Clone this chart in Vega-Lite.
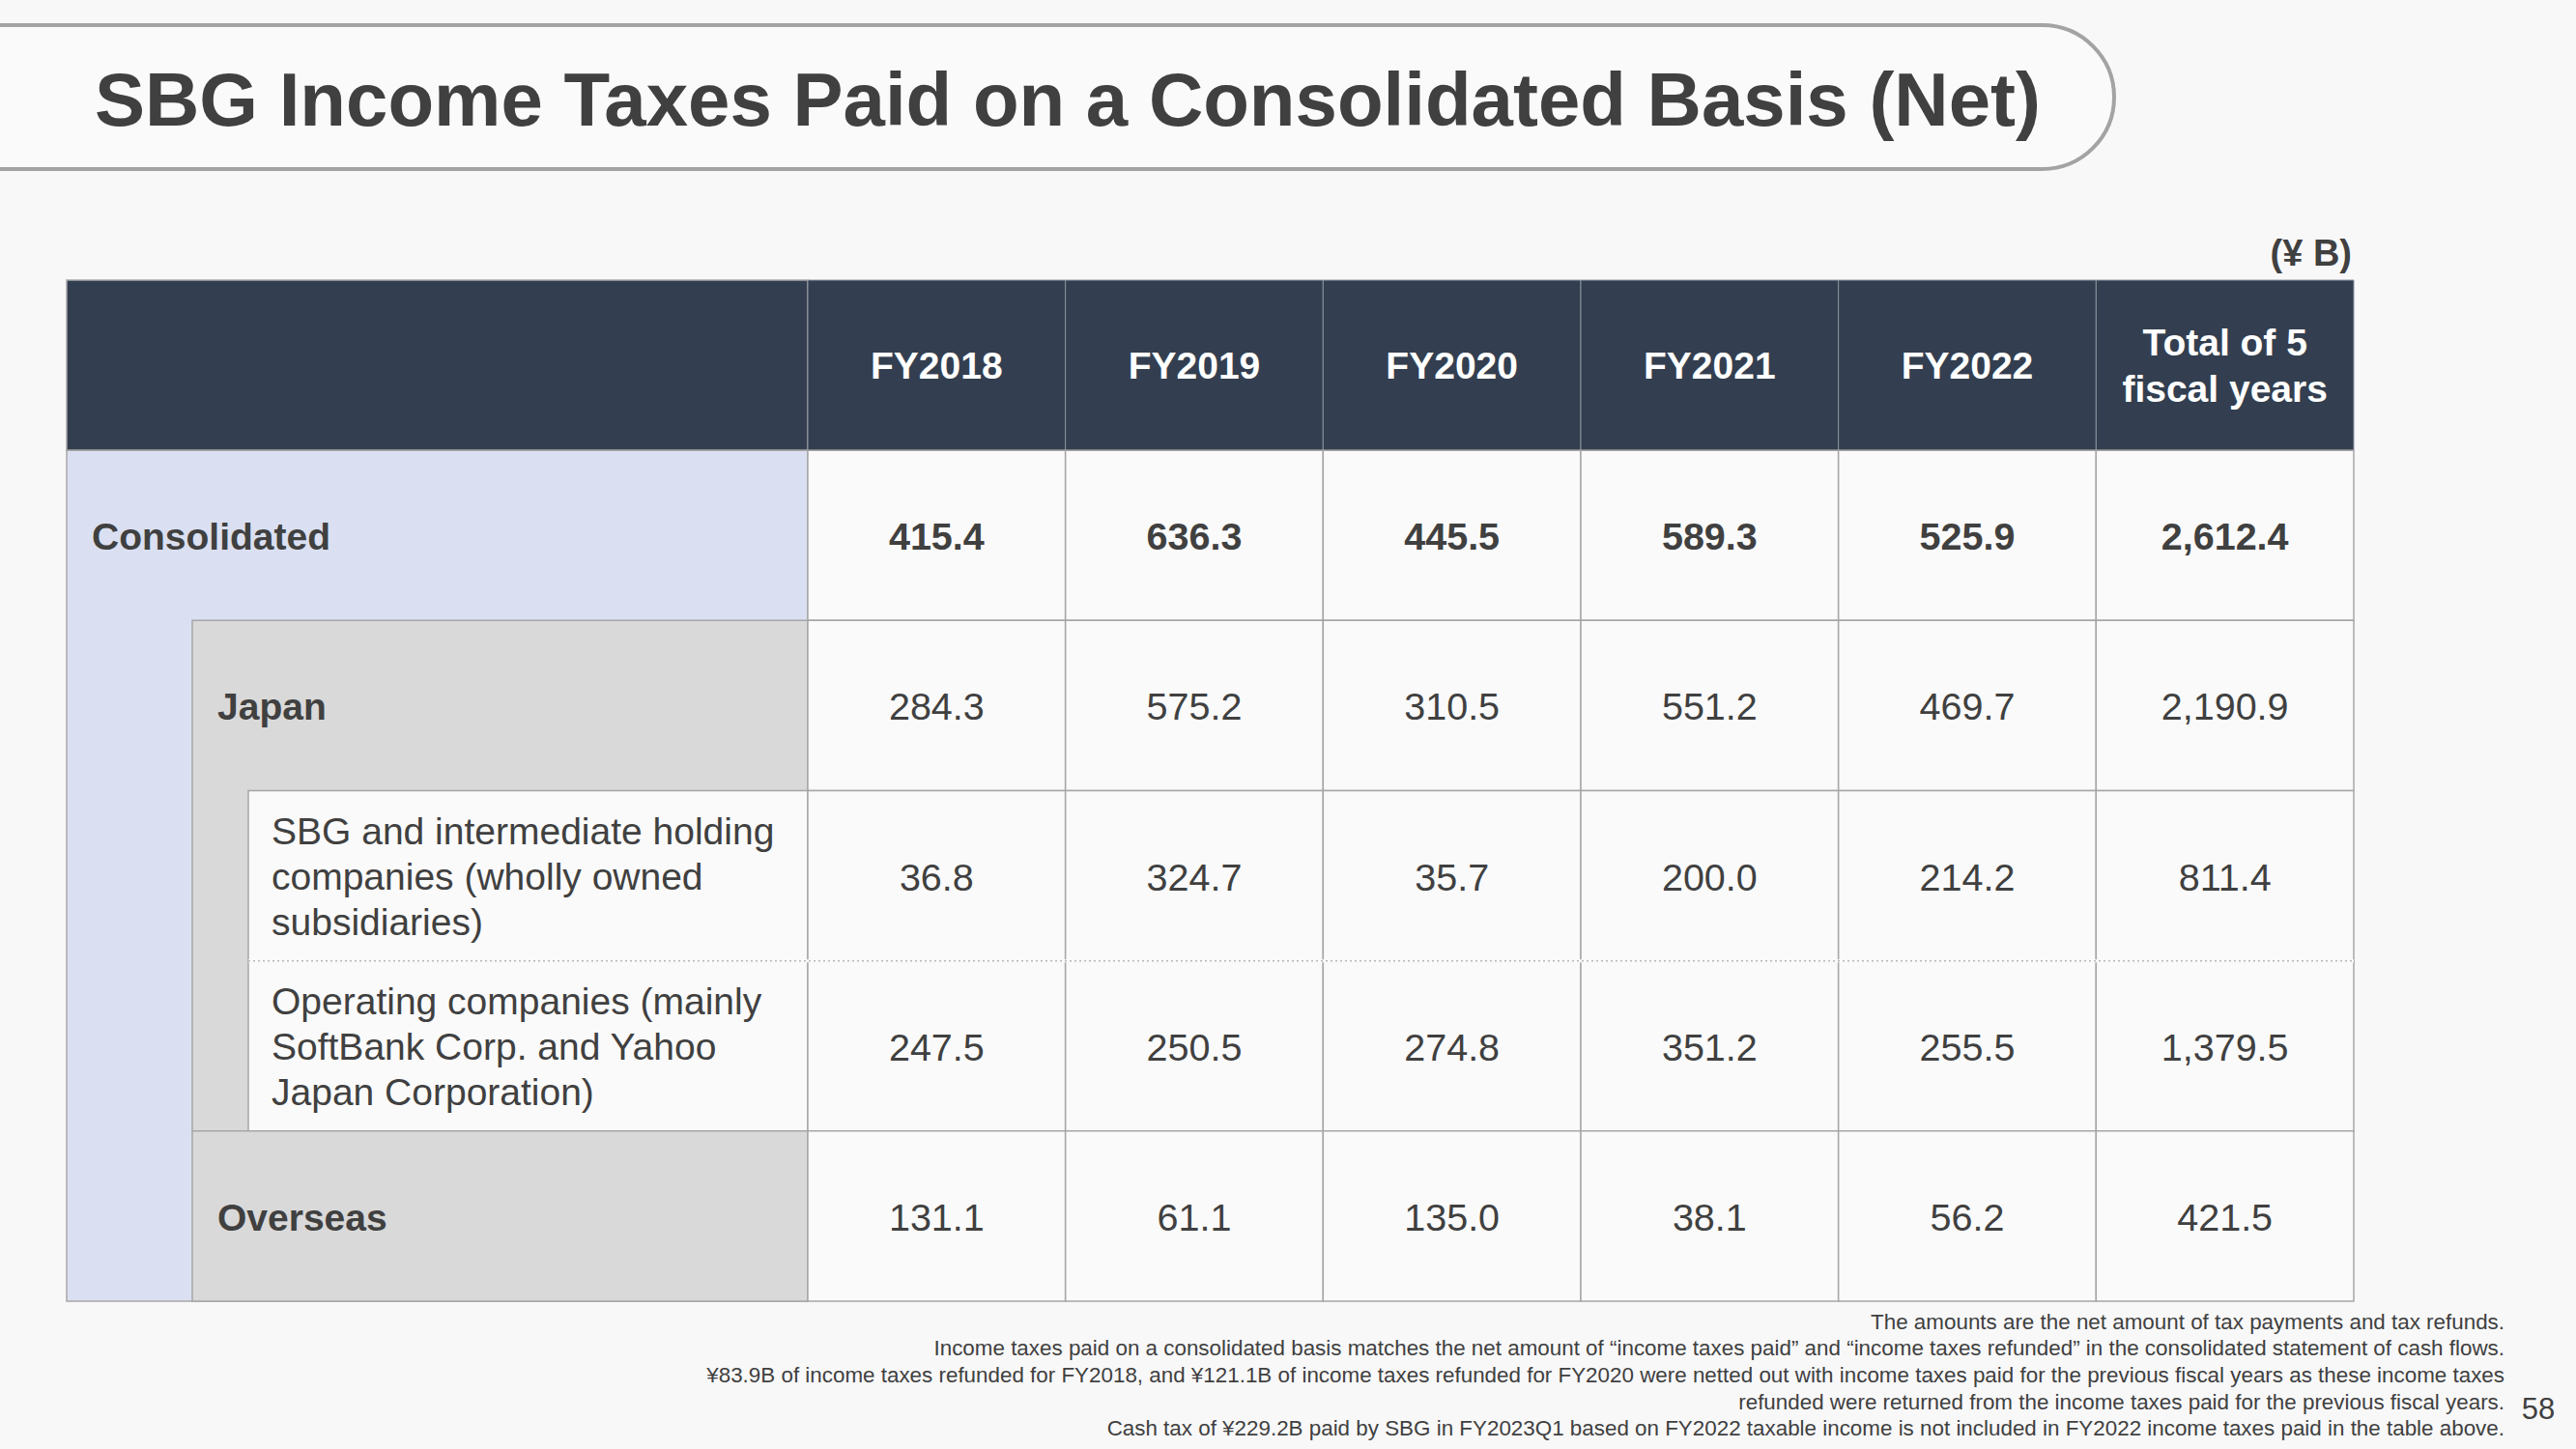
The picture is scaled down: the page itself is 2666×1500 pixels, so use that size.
{
  "$schema": "https://vega.github.io/schema/vega-lite/v6.json",
  "width": 2666,
  "height": 1500,
  "padding": 0,
  "autosize": {"type": "none"},
  "background": "#f8f8f9",
  "config": {"view": {"stroke": null}, "font": "Liberation Sans"},
  "datasets": {
    "years": [
      {"year": "FY2018", "header": "FY2018"},
      {"year": "FY2019", "header": "FY2019"},
      {"year": "FY2020", "header": "FY2020"},
      {"year": "FY2021", "header": "FY2021"},
      {"year": "FY2022", "header": "FY2022"},
      {"year": "Total", "header": "Total of 5\nfiscal years"}
    ],
    "items": [
      {"item": "Consolidated", "label": "Consolidated", "level": 0},
      {"item": "Japan", "label": "Japan", "level": 1},
      {"item": "SBG", "label": "SBG and intermediate holding\ncompanies (wholly owned\nsubsidiaries)", "level": 2},
      {"item": "Operating", "label": "Operating companies (mainly\nSoftBank Corp. and Yahoo\nJapan Corporation)", "level": 2},
      {"item": "Overseas", "label": "Overseas", "level": 1}
    ],
    "blocks": [
      {"block": "Header", "level": 0, "first": "header", "last": "header"},
      {"block": "Consolidated", "level": 0, "first": "Consolidated", "last": "Overseas"},
      {"block": "Japan", "level": 1, "first": "Japan", "last": "Operating"},
      {"block": "Subsidiaries", "level": 2, "first": "SBG", "last": "Operating"},
      {"block": "Overseas", "level": 1, "first": "Overseas", "last": "Overseas"}
    ],
    "cells": [
      {"item": "Consolidated", "year": "FY2018", "value": 415.4},
      {"item": "Consolidated", "year": "FY2019", "value": 636.3},
      {"item": "Consolidated", "year": "FY2020", "value": 445.5},
      {"item": "Consolidated", "year": "FY2021", "value": 589.3},
      {"item": "Consolidated", "year": "FY2022", "value": 525.9},
      {"item": "Consolidated", "year": "Total", "value": 2612.4},
      {"item": "Japan", "year": "FY2018", "value": 284.3},
      {"item": "Japan", "year": "FY2019", "value": 575.2},
      {"item": "Japan", "year": "FY2020", "value": 310.5},
      {"item": "Japan", "year": "FY2021", "value": 551.2},
      {"item": "Japan", "year": "FY2022", "value": 469.7},
      {"item": "Japan", "year": "Total", "value": 2190.9},
      {"item": "SBG", "year": "FY2018", "value": 36.8},
      {"item": "SBG", "year": "FY2019", "value": 324.7},
      {"item": "SBG", "year": "FY2020", "value": 35.7},
      {"item": "SBG", "year": "FY2021", "value": 200.0},
      {"item": "SBG", "year": "FY2022", "value": 214.2},
      {"item": "SBG", "year": "Total", "value": 811.4},
      {"item": "Operating", "year": "FY2018", "value": 247.5},
      {"item": "Operating", "year": "FY2019", "value": 250.5},
      {"item": "Operating", "year": "FY2020", "value": 274.8},
      {"item": "Operating", "year": "FY2021", "value": 351.2},
      {"item": "Operating", "year": "FY2022", "value": 255.5},
      {"item": "Operating", "year": "Total", "value": 1379.5},
      {"item": "Overseas", "year": "FY2018", "value": 131.1},
      {"item": "Overseas", "year": "FY2019", "value": 61.1},
      {"item": "Overseas", "year": "FY2020", "value": 135.0},
      {"item": "Overseas", "year": "FY2021", "value": 38.1},
      {"item": "Overseas", "year": "FY2022", "value": 56.2},
      {"item": "Overseas", "year": "Total", "value": 421.5}
    ],
    "notes": [
      {"line": 1, "note": "The amounts are the net amount of tax payments and tax refunds."},
      {"line": 2, "note": "Income taxes paid on a consolidated basis matches the net amount of “income taxes paid” and “income taxes refunded” in the consolidated statement of cash flows."},
      {"line": 3, "note": "¥83.9B of income taxes refunded for FY2018, and ¥121.1B of income taxes refunded for FY2020 were netted out with income taxes paid for the previous fiscal years as these income taxes"},
      {"line": 4, "note": "refunded were returned from the income taxes paid for the previous fiscal years."},
      {"line": 5, "note": "Cash tax of ¥229.2B paid by SBG in FY2023Q1 based on FY2022 taxable income is not included in FY2022 income taxes paid in the table above."}
    ]
  },
  "resolve": {"scale": {"x": "independent", "y": "independent", "fill": "independent"}},
  "layer": [
    {
      "data": {"values": [{"t": "SBG Income Taxes Paid on a Consolidated Basis (Net)"}]},
      "mark": {"type": "rect", "cornerRadius": 75, "fill": "#fafafa", "stroke": "#a3a3a3", "strokeWidth": 4},
      "encoding": {
        "x": {"field": "t", "type": "nominal", "axis": null, "scale": {"range": [-80, 2188], "paddingInner": 0, "paddingOuter": 0}},
        "y": {"field": "t", "type": "nominal", "axis": null, "scale": {"range": [26, 175], "paddingInner": 0, "paddingOuter": 0}}
      }
    },
    {
      "data": {"values": [{"t": "SBG Income Taxes Paid on a Consolidated Basis (Net)"}]},
      "mark": {"type": "text", "align": "left", "baseline": "middle", "fontSize": 78, "fontWeight": "bold", "fill": "#404040"},
      "encoding": {
        "x": {"datum": 0, "type": "quantitative", "axis": null, "scale": {"domain": [0, 1], "range": [98, 2188], "nice": false, "zero": false}},
        "y": {"field": "t", "type": "nominal", "axis": null, "scale": {"range": [32, 182], "paddingInner": 0, "paddingOuter": 0}},
        "text": {"field": "t"}
      }
    },
    {
      "data": {"values": [{"u": "(¥ B)"}]},
      "mark": {"type": "text", "align": "right", "baseline": "middle", "fontSize": 38, "fontWeight": "bold", "fill": "#404040"},
      "encoding": {
        "x": {"datum": 1, "type": "quantitative", "axis": null, "scale": {"domain": [0, 1], "range": [0, 2434], "nice": false, "zero": false}},
        "y": {"field": "u", "type": "nominal", "axis": null, "scale": {"range": [241, 287], "paddingInner": 0, "paddingOuter": 0}},
        "text": {"field": "u"}
      }
    },
    {
      "data": {"name": "blocks"},
      "mark": {"type": "rect", "stroke": "#a6a6a6", "strokeWidth": 1.5},
      "encoding": {
        "x": {"field": "level", "type": "quantitative", "axis": null, "scale": {"domain": [0, 1, 2, 3, 4], "range": [69, 199, 257, 836, 2436], "nice": false, "zero": false}},
        "x2": {"datum": 3},
        "y": {"field": "first", "type": "nominal", "axis": null, "bandPosition": 0, "scale": {"domain": ["header", "Consolidated", "Japan", "SBG", "Operating", "Overseas"], "range": [290, 1347], "paddingInner": 0, "paddingOuter": 0}},
        "y2": {"field": "last", "bandPosition": 1},
        "fill": {"field": "block", "type": "nominal", "legend": null, "scale": {"domain": ["Header", "Consolidated", "Japan", "Subsidiaries", "Overseas"], "range": ["#333f50", "#dae0f1", "#d9d9d9", "#fafafa", "#d9d9d9"]}}
      }
    },
    {
      "data": {"name": "years"},
      "mark": {"type": "rect", "fill": "#333f50", "stroke": "#8a919c", "strokeWidth": 1},
      "encoding": {
        "x": {"field": "year", "type": "nominal", "axis": null, "sort": null, "scale": {"domain": ["FY2018", "FY2019", "FY2020", "FY2021", "FY2022", "Total"], "range": [836, 2436], "paddingInner": 0, "paddingOuter": 0}},
        "y": {"datum": "header", "type": "nominal", "axis": null, "scale": {"domain": ["header", "Consolidated", "Japan", "SBG", "Operating", "Overseas"], "range": [290, 1347], "paddingInner": 0, "paddingOuter": 0}}
      }
    },
    {
      "data": {"name": "cells"},
      "mark": {"type": "rect", "fill": "#fafafa", "stroke": "#a6a6a6", "strokeWidth": 1.5},
      "encoding": {
        "x": {"field": "year", "type": "nominal", "axis": null, "scale": {"domain": ["FY2018", "FY2019", "FY2020", "FY2021", "FY2022", "Total"], "range": [836, 2436], "paddingInner": 0, "paddingOuter": 0}},
        "y": {"field": "item", "type": "nominal", "axis": null, "scale": {"domain": ["header", "Consolidated", "Japan", "SBG", "Operating", "Overseas"], "range": [290, 1347], "paddingInner": 0, "paddingOuter": 0}}
      }
    },
    {
      "data": {"name": "items"},
      "transform": [{"filter": "datum.item === 'Operating'"}],
      "mark": {"type": "rule", "stroke": "#fafafa", "strokeWidth": 3},
      "encoding": {
        "x": {"field": "level", "type": "quantitative", "axis": null, "scale": {"domain": [0, 1, 2, 3, 4], "range": [69, 199, 257, 836, 2436], "nice": false, "zero": false}},
        "x2": {"datum": 4},
        "y": {"field": "item", "type": "nominal", "axis": null, "bandPosition": 0, "scale": {"domain": ["header", "Consolidated", "Japan", "SBG", "Operating", "Overseas"], "range": [290, 1347], "paddingInner": 0, "paddingOuter": 0}}
      }
    },
    {
      "data": {"name": "items"},
      "transform": [{"filter": "datum.item === 'Operating'"}],
      "mark": {"type": "rule", "stroke": "#b8b8b8", "strokeWidth": 1.5, "strokeDash": [2, 3]},
      "encoding": {
        "x": {"field": "level", "type": "quantitative", "axis": null, "scale": {"domain": [0, 1, 2, 3, 4], "range": [69, 199, 257, 836, 2436], "nice": false, "zero": false}},
        "x2": {"datum": 4},
        "y": {"field": "item", "type": "nominal", "axis": null, "bandPosition": 0, "scale": {"domain": ["header", "Consolidated", "Japan", "SBG", "Operating", "Overseas"], "range": [290, 1347], "paddingInner": 0, "paddingOuter": 0}}
      }
    },
    {
      "data": {"name": "years"},
      "transform": [{"filter": "datum.year !== 'Total'"}],
      "mark": {"type": "text", "align": "center", "baseline": "middle", "fontSize": 39, "fontWeight": "bold", "fill": "#ffffff", "dy": 2},
      "encoding": {
        "x": {"field": "year", "type": "nominal", "axis": null, "scale": {"domain": ["FY2018", "FY2019", "FY2020", "FY2021", "FY2022", "Total"], "range": [836, 2436], "paddingInner": 0, "paddingOuter": 0}},
        "y": {"datum": "header", "type": "nominal", "axis": null, "scale": {"domain": ["header", "Consolidated", "Japan", "SBG", "Operating", "Overseas"], "range": [290, 1347], "paddingInner": 0, "paddingOuter": 0}},
        "text": {"field": "header"}
      }
    },
    {
      "data": {"name": "years"},
      "transform": [{"filter": "datum.year === 'Total'"}],
      "mark": {"type": "text", "align": "center", "baseline": "middle", "fontSize": 39, "fontWeight": "bold", "fill": "#ffffff", "lineBreak": "\n", "lineHeight": 48, "dy": -22},
      "encoding": {
        "x": {"field": "year", "type": "nominal", "axis": null, "scale": {"domain": ["FY2018", "FY2019", "FY2020", "FY2021", "FY2022", "Total"], "range": [836, 2436], "paddingInner": 0, "paddingOuter": 0}},
        "y": {"datum": "header", "type": "nominal", "axis": null, "scale": {"domain": ["header", "Consolidated", "Japan", "SBG", "Operating", "Overseas"], "range": [290, 1347], "paddingInner": 0, "paddingOuter": 0}},
        "text": {"field": "header"}
      }
    },
    {
      "data": {"name": "items"},
      "transform": [{"filter": "datum.level < 2"}],
      "mark": {"type": "text", "align": "left", "baseline": "middle", "fontSize": 39, "fontWeight": "bold", "fill": "#404040", "dx": 26, "dy": 3},
      "encoding": {
        "x": {"field": "level", "type": "quantitative", "axis": null, "scale": {"domain": [0, 1, 2, 3, 4], "range": [69, 199, 257, 836, 2436], "nice": false, "zero": false}},
        "y": {"field": "item", "type": "nominal", "axis": null, "scale": {"domain": ["header", "Consolidated", "Japan", "SBG", "Operating", "Overseas"], "range": [290, 1347], "paddingInner": 0, "paddingOuter": 0}},
        "text": {"field": "label"}
      }
    },
    {
      "data": {"name": "items"},
      "transform": [{"filter": "datum.level >= 2"}],
      "mark": {"type": "text", "align": "left", "baseline": "middle", "fontSize": 39, "fill": "#404040", "dx": 24, "dy": -45, "lineBreak": "\n", "lineHeight": 47},
      "encoding": {
        "x": {"field": "level", "type": "quantitative", "axis": null, "scale": {"domain": [0, 1, 2, 3, 4], "range": [69, 199, 257, 836, 2436], "nice": false, "zero": false}},
        "y": {"field": "item", "type": "nominal", "axis": null, "scale": {"domain": ["header", "Consolidated", "Japan", "SBG", "Operating", "Overseas"], "range": [290, 1347], "paddingInner": 0, "paddingOuter": 0}},
        "text": {"field": "label"}
      }
    },
    {
      "data": {"name": "cells"},
      "transform": [{"filter": "datum.item === 'Consolidated'"}],
      "mark": {"type": "text", "align": "center", "baseline": "middle", "fontSize": 39.5, "fontWeight": "bold", "fill": "#404040", "dy": 3},
      "encoding": {
        "x": {"field": "year", "type": "nominal", "axis": null, "scale": {"domain": ["FY2018", "FY2019", "FY2020", "FY2021", "FY2022", "Total"], "range": [836, 2436], "paddingInner": 0, "paddingOuter": 0}},
        "y": {"field": "item", "type": "nominal", "axis": null, "scale": {"domain": ["header", "Consolidated", "Japan", "SBG", "Operating", "Overseas"], "range": [290, 1347], "paddingInner": 0, "paddingOuter": 0}},
        "text": {"field": "value", "type": "quantitative", "format": ",.1f"}
      }
    },
    {
      "data": {"name": "cells"},
      "transform": [{"filter": "datum.item !== 'Consolidated'"}],
      "mark": {"type": "text", "align": "center", "baseline": "middle", "fontSize": 39.5, "fill": "#404040", "dy": 3},
      "encoding": {
        "x": {"field": "year", "type": "nominal", "axis": null, "scale": {"domain": ["FY2018", "FY2019", "FY2020", "FY2021", "FY2022", "Total"], "range": [836, 2436], "paddingInner": 0, "paddingOuter": 0}},
        "y": {"field": "item", "type": "nominal", "axis": null, "scale": {"domain": ["header", "Consolidated", "Japan", "SBG", "Operating", "Overseas"], "range": [290, 1347], "paddingInner": 0, "paddingOuter": 0}},
        "text": {"field": "value", "type": "quantitative", "format": ",.1f"}
      }
    },
    {
      "data": {"name": "notes"},
      "mark": {"type": "text", "align": "right", "baseline": "middle", "fontSize": 22.4, "fill": "#404040"},
      "encoding": {
        "x": {"datum": 1, "type": "quantitative", "axis": null, "scale": {"domain": [0, 1], "range": [0, 2592], "nice": false, "zero": false}},
        "y": {"field": "line", "type": "ordinal", "axis": null, "scale": {"range": [1355, 1493], "paddingInner": 0, "paddingOuter": 0}},
        "text": {"field": "note"}
      }
    },
    {
      "data": {"values": [{"page": "58"}]},
      "mark": {"type": "text", "align": "center", "baseline": "middle", "fontSize": 31, "fill": "#404040"},
      "encoding": {
        "x": {"field": "page", "type": "nominal", "axis": null, "scale": {"range": [2606, 2648], "paddingInner": 0, "paddingOuter": 0}},
        "y": {"field": "page", "type": "nominal", "axis": null, "scale": {"range": [1440, 1480], "paddingInner": 0, "paddingOuter": 0}},
        "text": {"field": "page"}
      }
    }
  ]
}
